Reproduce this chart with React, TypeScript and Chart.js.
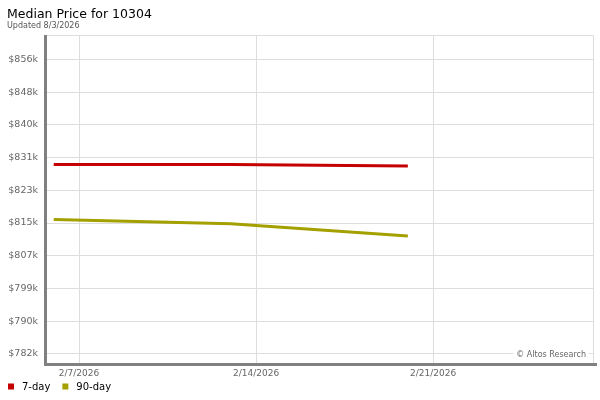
import React, { useEffect, useRef } from 'react';
import { Chart, registerables } from 'chart.js';

Chart.register(...registerables);

const titleText = 'Median Price for 10304';
const subtitleText = 'Updated 8/3/2026';
const watermarkText = '© Altos Research';

const dates = ['2/6/2026', '2/13/2026', '2/20/2026'];
const dayOfFeb = [6, 13, 20];
const sevenDay = [829600, 829600, 829200];
const ninetyDay = [815800, 814700, 811600];
const xTickDays = [7, 14, 21];
const xTickLabels = ['2/7/2026', '2/14/2026', '2/21/2026'];
const yTickValues = [782000, 790222, 798444, 806667, 814889, 823111, 831333, 839556, 847778, 856000];
const yTickLabels = ['$782k', '$790k', '$799k', '$807k', '$815k', '$823k', '$831k', '$840k', '$848k', '$856k'];

const FONT = '"DejaVu Sans", sans-serif';

const decorPlugin = {
  id: 'decor',
  afterDatasetsDraw(chart: any) {
    const { ctx, chartArea } = chart;
    const { left, right, top, bottom } = chartArea;
    ctx.save();
    ctx.strokeStyle = '#dddddd';
    ctx.lineWidth = 1;
    ctx.beginPath();
    ctx.moveTo(left, top + 0.5);
    ctx.lineTo(right + 0.5, top + 0.5);
    ctx.lineTo(right + 0.5, bottom);
    ctx.stroke();
    ctx.fillStyle = '#808080';
    ctx.fillRect(left - 1.5, top, 3, bottom - top + 1.5);
    ctx.fillRect(left - 1.5, bottom - 1.5, 597 - (left - 1.5), 3);
    ctx.restore();
  },
  afterDraw(chart: any) {
    const { ctx, chartArea } = chart;
    ctx.save();
    ctx.fillStyle = '#000000';
    ctx.textBaseline = 'alphabetic';
    ctx.textAlign = 'left';
    ctx.font = '12.5px ' + FONT;
    ctx.fillText(titleText, 7, 18);
    ctx.fillStyle = '#555555';
    ctx.font = '8px ' + FONT;
    ctx.fillText(subtitleText, 7, 28);
    ctx.font = '8px ' + FONT;
    const w = ctx.measureText(watermarkText).width;
    const wx = chartArea.right - 7 - w;
    const wy = 354;
    ctx.fillStyle = '#ffffff';
    ctx.fillRect(wx - 3, wy - 5, w + 6, 10);
    ctx.fillStyle = '#666666';
    ctx.textBaseline = 'middle';
    ctx.fillText(watermarkText, wx, wy + 0.5);
    ctx.font = '10px ' + FONT;
    ctx.textBaseline = 'middle';
    let x = 8;
    const ly = 386.5;
    chart.data.datasets.forEach((ds: any) => {
      ctx.fillStyle = ds.borderColor;
      ctx.fillRect(x, ly - 3, 6, 6);
      ctx.fillStyle = '#000000';
      ctx.fillText(ds.label, x + 14, ly + 0.5);
      x += 14 + ctx.measureText(ds.label).width + 12;
    });
    ctx.restore();
  },
};

export default function App() {
  const canvasRef = useRef<HTMLCanvasElement | null>(null);

  useEffect(() => {
    const canvas = canvasRef.current;
    if (!canvas) return;
    const chart = new Chart(canvas, {
      type: 'line',
      data: {
        datasets: [
          {
            label: '7-day',
            data: dayOfFeb.map((d, i) => ({ x: d, y: sevenDay[i] })),
            borderColor: '#c40000',
            backgroundColor: '#c40000',
            borderWidth: 3,
            pointRadius: 0,
            tension: 0,
          },
          {
            label: '90-day',
            data: dayOfFeb.map((d, i) => ({ x: d, y: ninetyDay[i] })),
            borderColor: '#a3a000',
            backgroundColor: '#a3a000',
            borderWidth: 3,
            pointRadius: 0,
            tension: 0,
          },
        ],
      },
      options: {
        responsive: false,
        animation: false,
        events: [],
        layout: { padding: { left: 0, right: 7, top: 35, bottom: 0 } },
        plugins: {
          legend: { display: false },
          title: { display: false },
          tooltip: { enabled: false },
        },
        scales: {
          x: {
            type: 'linear',
            min: 5.675,
            max: 27.32,
            afterBuildTicks: (scale: any) => {
              scale.ticks = xTickDays.map((v) => ({ value: v }));
            },
            afterFit: (scale: any) => {
              scale.height = 35.5;
            },
            ticks: {
              autoSkip: false,
              maxRotation: 0,
              padding: 4,
              color: '#666666',
              font: { family: FONT, size: 9 },
              callback: (v: any, i: number) => xTickLabels[i] ?? '',
            },
            grid: { color: '#dddddd', drawTicks: false, lineWidth: 1 },
            border: { display: false },
          },
          y: {
            type: 'linear',
            min: 779360,
            max: 862100,
            afterBuildTicks: (scale: any) => {
              scale.ticks = yTickValues.map((v) => ({ value: v }));
            },
            afterFit: (scale: any) => {
              scale.width = 45.5;
            },
            ticks: {
              autoSkip: false,
              padding: 7.5,
              color: '#666666',
              font: { family: FONT, size: 9.5 },
              callback: (v: any, i: number) => yTickLabels[i] ?? '',
            },
            grid: { color: '#dddddd', drawTicks: false, lineWidth: 1 },
            border: { display: false },
          },
        },
      },
      plugins: [decorPlugin],
    });
    return () => chart.destroy();
  }, []);

  return (
    <div style={{ position: 'fixed', left: 0, top: 0, width: 600, height: 400, background: '#ffffff' }}>
      <canvas ref={canvasRef} width={600} height={400} style={{ width: 600, height: 400, display: 'block' }} />
    </div>
  );
}
